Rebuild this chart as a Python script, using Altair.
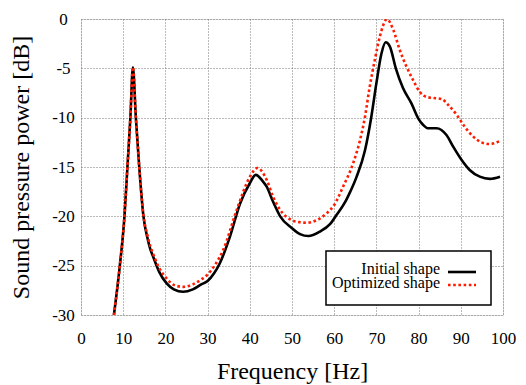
import altair as alt
import pandas as pd

# ---- data ----
series_names = ["Initial shape", "Optimized shape"]

init_freq = [7.8, 9.2, 10.3, 11.0, 11.7, 12.3, 13.0, 13.8, 14.8, 15.8, 16.4, 17.1, 18.5, 20.3, 22.0,
             24.2, 26.5, 28.5, 30.0, 31.5, 32.9, 35.3, 37.7, 40.0, 41.4, 43.0, 44.0, 45.5, 47.2, 50.0,
             51.9, 53.9, 56.6, 59.0, 60.5, 62.9, 63.7, 65.3, 67.3, 68.8, 70.0, 71.2, 72.2, 73.2,
             74.6, 76.3, 78.3, 79.9, 81.1, 82.3, 84.2, 85.4, 86.6, 88.2, 90.2, 92.1, 94.5, 96.9,
             99.3]
init_db = [-30.0, -25.0, -20.0, -15.0, -10.0, -4.9, -10.0, -15.0, -20.0, -22.3, -23.3, -24.1, -25.6, -26.8, -27.4,
           -27.65, -27.4, -26.9, -26.55, -25.8, -24.75, -22.05, -18.7, -16.65, -15.8, -16.4, -17.0, -18.5, -20.0, -21.2,
           -21.8, -22.0, -21.55, -20.8, -19.9, -18.3, -17.6, -16.0, -13.3, -9.9, -6.5, -3.5, -2.36, -2.8,
           -5.0, -7.0, -8.55, -10.07, -10.74, -11.08, -11.08, -11.25, -11.76, -12.94, -14.29, -15.3, -15.98, -16.2,
           -15.98]

opt_freq = [7.8, 9.2, 10.3, 11.0, 11.7, 12.3, 13.0, 13.8, 14.8, 15.8, 16.4, 17.1, 18.5, 20.3, 22.0,
            24.2, 26.5, 28.5, 30.0, 31.8, 33.7, 36.9, 40.0, 41.8, 44.0, 45.5, 47.2, 50.0, 51.9, 53.5,
            55.8, 58.2, 60.0, 62.1, 64.5, 66.1, 67.3, 68.4, 69.6, 70.8, 72.5, 74.0, 75.5, 77.1,
            78.7, 80.3, 81.9, 83.4, 85.4, 87.0, 89.0, 90.9, 92.9, 94.9, 96.9, 99.3]
opt_db = [-30.0, -25.0, -20.0, -15.0, -10.0, -4.9, -10.0, -15.0, -19.9, -22.0, -23.0, -23.8, -25.2, -26.3, -26.95,
          -27.15, -26.9, -26.4, -25.9, -24.9, -23.4, -19.35, -16.0, -15.1, -16.3, -18.0, -19.35, -20.4, -20.6, -20.65,
          -20.4, -19.7, -18.85, -17.0, -14.6, -12.3, -9.9, -6.9, -4.2, -1.8, -0.03, -1.1, -3.1, -4.8,
          -6.2, -7.4, -7.9, -8.0, -8.1, -8.7, -9.7, -10.9, -11.9, -12.5, -12.67, -12.36]

x_ticks = [0, 10, 20, 30, 40, 50, 60, 70, 80, 90, 100]
y_ticks = [-30, -25, -20, -15, -10, -5, 0]

df = pd.concat([
    pd.DataFrame({"freq": init_freq, "db": init_db, "series": series_names[0]}),
    pd.DataFrame({"freq": opt_freq, "db": opt_db, "series": series_names[1]}),
], ignore_index=True)

FONT = "Liberation Serif"

x_enc = alt.X("freq:Q", title="Frequency [Hz]",
              scale=alt.Scale(domain=[0, 100], nice=False, zero=False),
              axis=alt.Axis(values=x_ticks, labelFontSize=17, titleFontSize=24,
                            labelPadding=15, tickSize=0, ticks=False, domain=False,
                            grid=True, gridDash=[1, 2], gridColor="#777", gridWidth=1,
                            labelColor="black", titleColor="black",
                            titleFontWeight="normal", titleY=44, titleBaseline="top",
                            labelFlush=False, labelOverlap=False))
y_enc = alt.Y("db:Q", title="Sound pressure power [dB]",
              scale=alt.Scale(domain=[-30, 0], nice=False, zero=False),
              axis=alt.Axis(values=y_ticks, labelFontSize=17, titleFontSize=24,
                            labelPadding=18, labelAlign="center", tickSize=0, ticks=False,
                            domain=False, grid=True, gridDash=[1, 2], gridColor="#777", gridWidth=1,
                            labelColor="black", titleColor="black",
                            titleFontWeight="normal", titleX=-53, titleY=148,
                            titleBaseline="alphabetic", labelExpr="'' + datum.value",
                            labelFlush=False, labelOverlap=False))

base = alt.Chart(df)

black_line = base.transform_filter(alt.datum.series == series_names[0]).mark_line(
    color="black", strokeWidth=2.6, clip=True, interpolate="monotone"
).encode(x=x_enc, y=y_enc, order="freq:Q")

red_line = base.transform_filter(alt.datum.series == series_names[1]).mark_line(
    color="#ff1a00", strokeWidth=2.6, strokeDash=[2.6, 2.6], clip=True, interpolate="monotone"
).encode(x=x_enc, y=y_enc, order="freq:Q")

# legend box (drawn in pixel space inside the plot, like the reference)
legend_box = alt.Chart(pd.DataFrame({"a": [0]})).mark_rect(
    fill="white", stroke="black", strokeWidth=1.5
).encode(x=alt.value(245), x2=alt.value(410), y=alt.value(232), y2=alt.value(286))

legend_text = []
legend_lines = []
styles = [dict(color="black", strokeWidth=2.6),
          dict(color="#ff1a00", strokeWidth=2.6, strokeDash=[2.6, 2.6])]
for i, name in enumerate(series_names):
    legend_text.append(
        alt.Chart(pd.DataFrame({"t": [name]})).mark_text(
            align="right", baseline="alphabetic", font=FONT, fontSize=16, color="black"
        ).encode(text="t:N", x=alt.value(359), y=alt.value(255 + 14 * i))
    )
    legend_lines.append(
        alt.Chart(pd.DataFrame({"t": [name]})).mark_rule(**styles[i]).encode(
            x=alt.value(367), x2=alt.value(395), y=alt.value(253 + 13 * i)
        )
    )

chart = alt.layer(black_line, red_line, legend_box, *legend_text, *legend_lines).properties(
    width=422, height=296,
    autosize=alt.AutoSizeParams(type="none"),
    padding={"left": 73, "top": 11, "right": 15, "bottom": 70},
).configure_view(stroke="black", strokeWidth=1.5).configure(
    background="white", font=FONT
).configure_axis(labelFont=FONT, titleFont=FONT).configure_text(font=FONT)

chart.save("out.html", embed_options={"renderer": "svg", "actions": False})
